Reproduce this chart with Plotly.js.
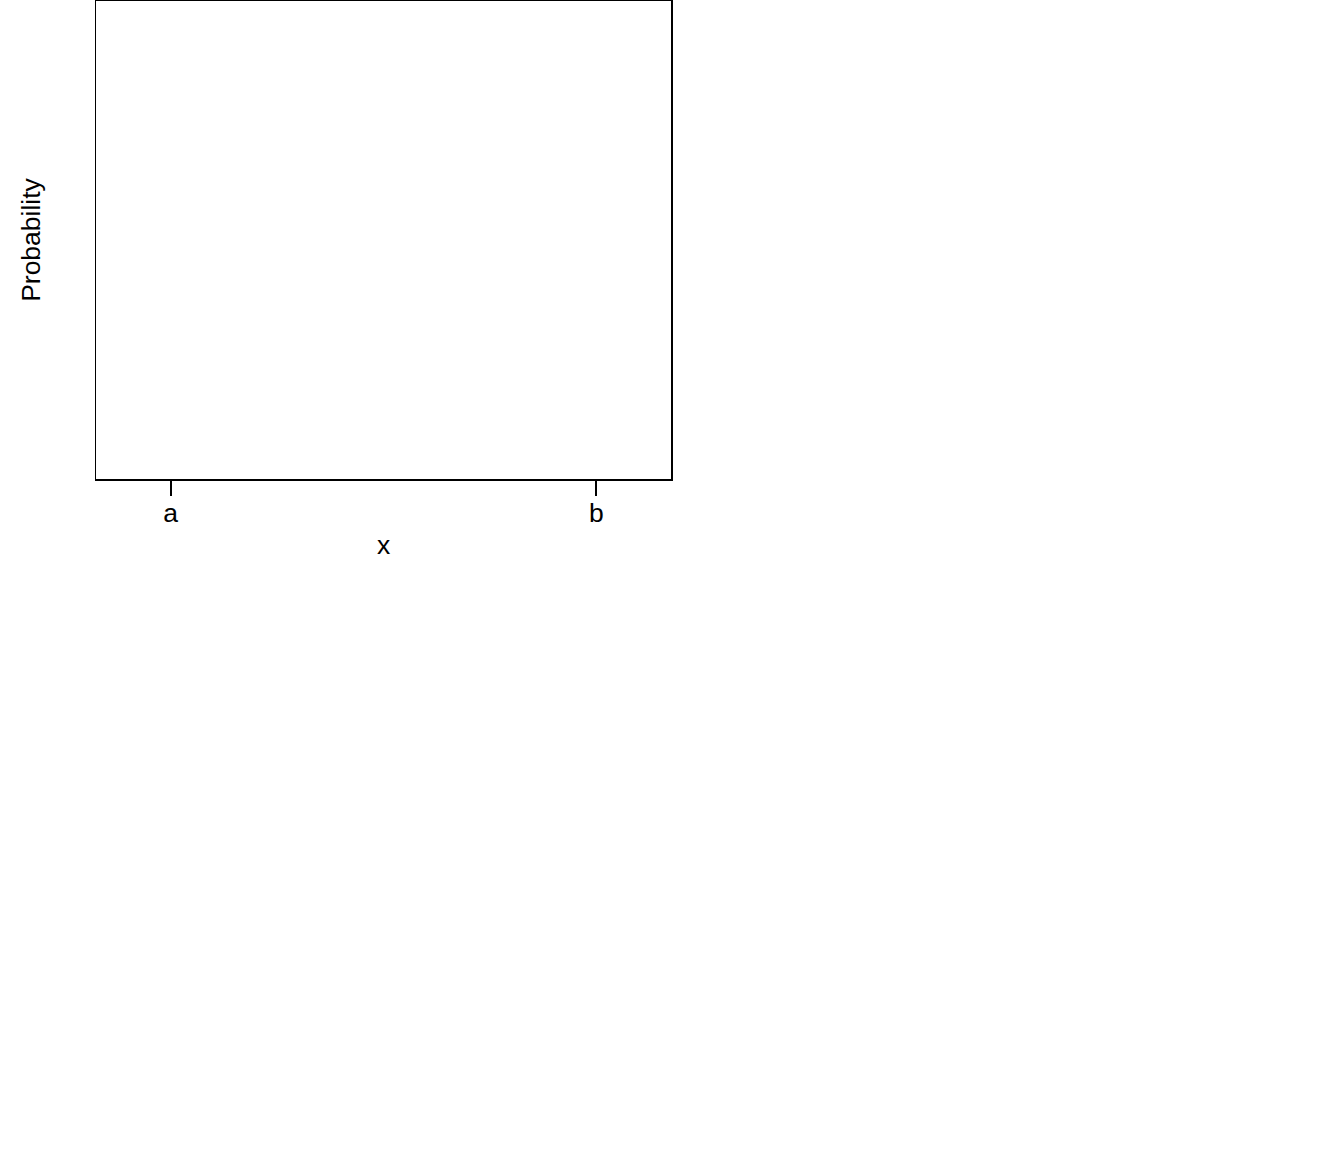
<!DOCTYPE html>
<html>
<head>
<meta charset="utf-8">
<script src="https://cdn.plot.ly/plotly-3.0.1.min.js"></script>
<style>html,body{margin:0;padding:0;background:#fff;}</style>
</head>
<body>
<div id="chart" style="width:1344px;height:1152px;"></div>
<script>
// Tick positions and labels (a and b of a uniform interval)
const tickValues = [0, 1];
const tickLabels = ["a", "b"];
const xRange = [-0.1756, 1.1756];
const yRange = [0, 1];

const data = [{
  x: tickValues,
  y: [null, null],
  type: "scatter",
  mode: "lines",
  line: {color: "#000", width: 1},
  showlegend: false,
  hoverinfo: "skip"
}];

const font = {family: "Liberation Sans, Arial, sans-serif", size: 26.5, color: "#000"};

const layout = {
  width: 1344,
  height: 1152,
  margin: {l: 96, r: 673, t: 1, b: 673, pad: 0},
  paper_bgcolor: "#fff",
  plot_bgcolor: "#fff",
  showlegend: false,
  font: font,
  xaxis: {
    range: xRange,
    tickvals: tickValues,
    ticktext: tickLabels,
    ticks: "outside",
    ticklen: 15,
    tickwidth: 2,
    tickcolor: "#000",
    ticklabelstandoff: -5,
    showline: true,
    linecolor: "#000",
    linewidth: 1.5,
    mirror: true,
    showgrid: false,
    zeroline: false,
    tickfont: font,
    title: {text: "x", font: font, standoff: 8}
  },
  yaxis: {
    range: yRange,
    showticklabels: false,
    ticks: "",
    showline: true,
    linecolor: "#000",
    linewidth: 1.5,
    mirror: true,
    showgrid: false,
    zeroline: false,
    title: {text: "Probability", font: font, standoff: 46}
  }
};

Plotly.newPlot("chart", data, layout, {displayModeBar: false, staticPlot: true});
</script>
</body>
</html>
